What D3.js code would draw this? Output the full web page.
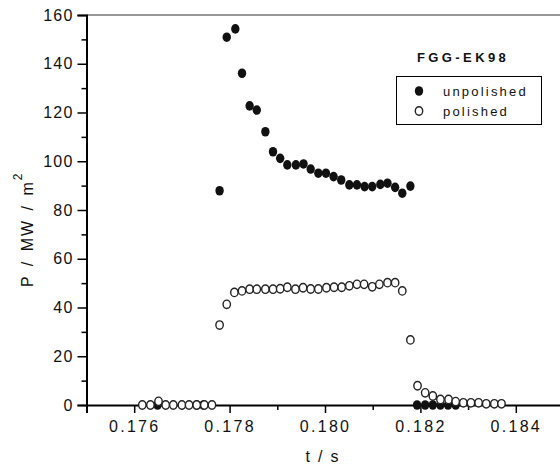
<!DOCTYPE html>
<html>
<head>
<meta charset="utf-8">
<script src="https://cdn.jsdelivr.net/npm/d3@7"></script>
<style>
  body { margin: 0; background: #fff; }
  svg { display: block; font-family: "Liberation Sans", Arial, sans-serif; }
</style>
</head>
<body>
<script>
// unpolished (filled) series
var unpolishedT = [0.17649, 0.17731, 0.17745,
  0.17779, 0.17794, 0.17812, 0.17826, 0.17842, 0.17857, 0.17875, 0.17891,
  0.17906, 0.17921, 0.17939, 0.17955, 0.17970, 0.17986, 0.18002, 0.18018,
  0.18034, 0.18051, 0.18067, 0.18083, 0.18099, 0.18116, 0.18131, 0.18147,
  0.18162, 0.18179,
  0.18193, 0.18210, 0.18226, 0.18242, 0.18258, 0.18274];
var unpolishedP = [0, 0, 0,
  87.9, 150.9, 154.3, 136.1, 122.7, 121.0, 112.1, 103.9,
  101.2, 98.5, 98.5, 98.9, 96.8, 95.1, 95.1, 93.7,
  92.3, 90.3, 90.3, 89.6, 89.6, 90.5, 91.0, 89.3,
  86.9, 89.8,
  0, 0, 0, 0, 0, 0];

// polished (open) series
var polishedT = [0.17617, 0.17634, 0.17651, 0.17666, 0.17682, 0.17700, 0.17715,
  0.17731, 0.17747, 0.17763,
  0.17779, 0.17794, 0.17810, 0.17826, 0.17842, 0.17857, 0.17875, 0.17891,
  0.17906, 0.17921, 0.17938, 0.17954, 0.17970, 0.17986, 0.18003, 0.18019,
  0.18035, 0.18051, 0.18067, 0.18082, 0.18099, 0.18114, 0.18131, 0.18147,
  0.18162, 0.18179, 0.18194, 0.18210, 0.18226, 0.18242, 0.18259, 0.18274,
  0.18290, 0.18306, 0.18322, 0.18338, 0.18355, 0.18370];
var polishedP = [0, 0, 1.5, 0, 0, 0, 0,
  0, 0, 0,
  32.8, 41.3, 46.2, 46.8, 47.5, 47.5, 47.5, 47.5,
  47.7, 48.3, 47.5, 48.1, 47.6, 47.6, 48.1, 48.3,
  48.3, 48.9, 49.5, 49.5, 48.5, 49.5, 50.2, 50.2,
  46.8, 26.7, 7.9, 5.0, 3.7, 2.3, 2.3, 1.4,
  0.9, 0.9, 0.9, 0.5, 0.5, 0.5];

var xMajor = [0.176, 0.178, 0.180, 0.182, 0.184];
var xMinor = [0.175, 0.177, 0.179, 0.181, 0.183, 0.185];
var yMajor = [0, 20, 40, 60, 80, 100, 120, 140, 160];
var yMinor = [10, 30, 50, 70, 90, 110, 130, 150];

var legendTitle = "FGG-EK98";
var seriesNames = ["unpolished", "polished"];

var width = 560, height = 468;

var svg = d3.select("body").append("svg")
  .attr("width", width)
  .attr("height", height);

var x = d3.scaleLinear().domain([0.175, 0.185]).range([86.5, 563.5]);
var y = d3.scaleLinear().domain([0, 160]).range([405, 15]);

// top frame line
svg.append("line")
  .attr("x1", x(0.175)).attr("x2", x(0.185))
  .attr("y1", y(160)).attr("y2", y(160))
  .attr("stroke", "#333").attr("stroke-width", 1.2);

// x axis, major + minor ticks
var xAxis = svg.append("g").attr("transform", "translate(0," + y(0) + ")");
xAxis.call(d3.axisBottom(x).tickValues(xMajor).tickSize(8).tickPadding(8)
  .tickFormat(d3.format(".3f")));
svg.append("g").attr("transform", "translate(0," + y(0) + ")")
  .call(d3.axisBottom(x).tickValues(xMinor).tickSize(5).tickFormat(""))
  .select(".domain").remove();

// y axis
var yAxis = svg.append("g").attr("transform", "translate(" + x(0.175) + ",0)");
yAxis.call(d3.axisLeft(y).tickValues(yMajor).tickSize(9).tickPadding(4));
svg.append("g").attr("transform", "translate(" + x(0.175) + ",0)")
  .call(d3.axisLeft(y).tickValues(yMinor).tickSize(5).tickFormat(""))
  .select(".domain").remove();

svg.selectAll(".domain").attr("stroke", "#000").attr("stroke-width", 2);
svg.selectAll(".tick line").attr("stroke", "#000").attr("stroke-width", 1.5);
xAxis.selectAll(".tick text")
  .attr("font-size", 16).attr("fill", "#111")
  .style("letter-spacing", "2.3px");
yAxis.selectAll(".tick text")
  .attr("font-size", 16).attr("fill", "#111")
  .style("letter-spacing", "1.2px");

// axis titles
svg.append("text")
  .attr("x", 323).attr("y", 462)
  .attr("text-anchor", "middle")
  .attr("font-size", 16).attr("fill", "#111")
  .style("letter-spacing", "1.8px")
  .text("t / s");

var yTitle = svg.append("text")
  .attr("transform", "translate(33,287) rotate(-90)")
  .attr("font-size", 16).attr("fill", "#111")
  .style("letter-spacing", "2px")
  .style("word-spacing", "2px");
yTitle.append("tspan").text("P / MW / m");
yTitle.append("tspan").attr("dy", -11).attr("font-size", 12).text("2");

// points: filled first, open ones (white fill) on top
var unpolished = unpolishedT.map(function(t, i) { return { t: t, p: unpolishedP[i] }; });
var polished = polishedT.map(function(t, i) { return { t: t, p: polishedP[i] }; });

svg.append("g").selectAll("ellipse")
  .data(unpolished).enter().append("ellipse")
  .attr("cx", function(d) { return x(d.t); })
  .attr("cy", function(d) { return y(d.p); })
  .attr("rx", 4.2).attr("ry", 4.8)
  .attr("fill", "#111");

svg.append("g").selectAll("ellipse")
  .data(polished).enter().append("ellipse")
  .attr("cx", function(d) { return x(d.t); })
  .attr("cy", function(d) { return y(d.p); })
  .attr("rx", 3.7).attr("ry", 4.2)
  .attr("fill", "#fff").attr("stroke", "#222").attr("stroke-width", 1.4);

// legend
svg.append("text")
  .attr("x", 417).attr("y", 62)
  .attr("font-size", 13).attr("font-weight", "bold").attr("fill", "#111")
  .style("letter-spacing", "3.4px")
  .text(legendTitle);

var legend = svg.append("g");
legend.append("rect")
  .attr("x", 396.5).attr("y", 76.5).attr("width", 145).attr("height", 48)
  .attr("fill", "none").attr("stroke", "#000").attr("stroke-width", 1);

legend.append("ellipse").attr("cx", 419).attr("cy", 91)
  .attr("rx", 4.2).attr("ry", 4.8).attr("fill", "#111");
legend.append("ellipse").attr("cx", 419).attr("cy", 111)
  .attr("rx", 3.7).attr("ry", 4.2)
  .attr("fill", "#fff").attr("stroke", "#222").attr("stroke-width", 1.4);

legend.selectAll("text.entry")
  .data(seriesNames).enter().append("text")
  .attr("class", "entry")
  .attr("x", 443)
  .attr("y", function(d, i) { return 96 + i * 20; })
  .attr("font-size", 13).attr("fill", "#111")
  .style("letter-spacing", "2.2px")
  .text(function(d) { return d; });
</script>
</body>
</html>
